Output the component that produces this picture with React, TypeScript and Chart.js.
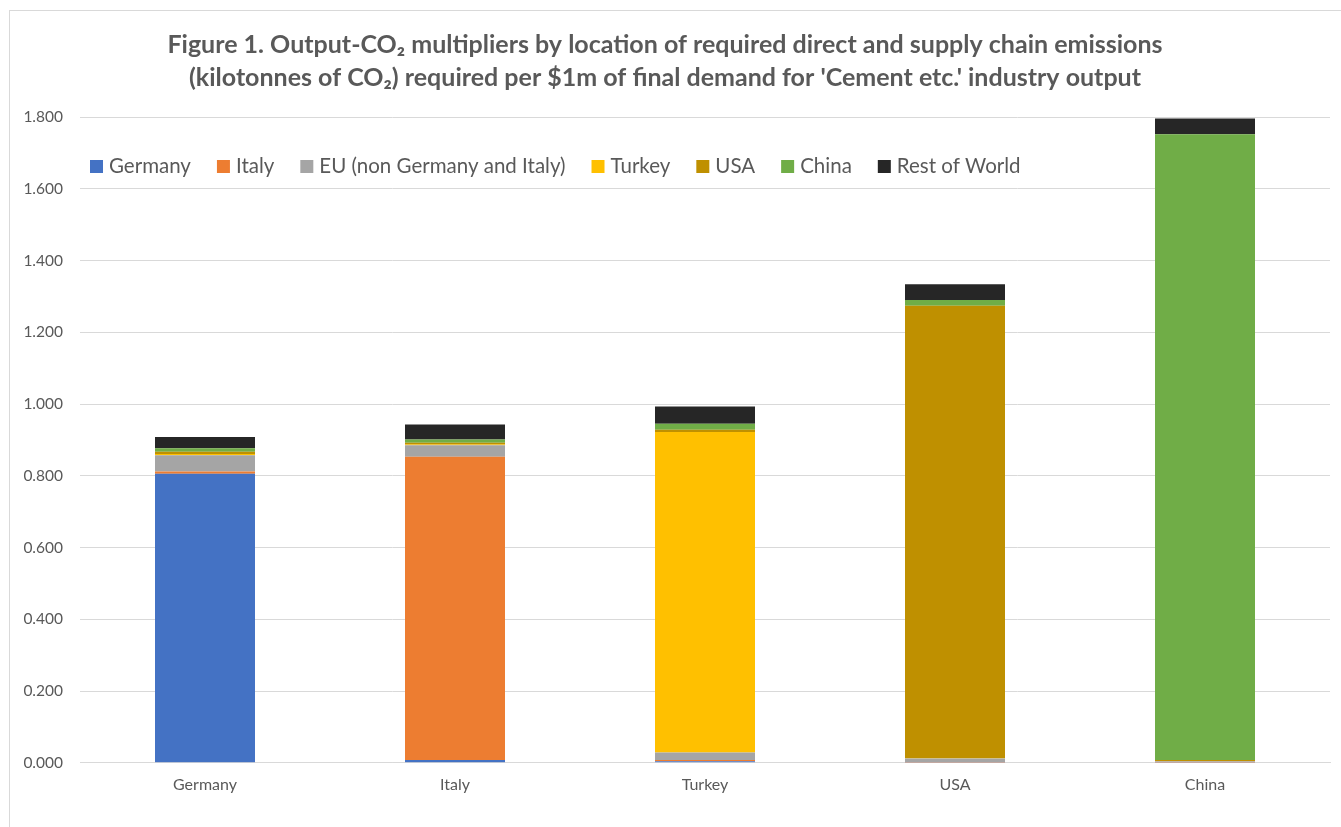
import React, { useEffect, useRef } from "react";
import { Chart, registerables } from "chart.js";

Chart.register(...registerables);

const categories = ["Germany", "Italy", "Turkey", "USA", "China"];
const seriesNames = ["Germany", "Italy", "EU (non Germany and Italy)", "Turkey", "USA", "China", "Rest of World"];
const germany = [0.806, 0.008, 0.004, 0.001, 0.001];
const italy = [0.006, 0.845, 0.004, 0.001, 0.001];
const eu = [0.045, 0.032, 0.021, 0.010, 0.002];
const turkey = [0.004, 0.002, 0.893, 0.001, 0.001];
const usa = [0.006, 0.005, 0.006, 1.261, 0.003];
const china = [0.010, 0.009, 0.017, 0.016, 1.744];
const restOfWorld = [0.031, 0.042, 0.048, 0.044, 0.044];
const seriesValues = [germany, italy, eu, turkey, usa, china, restOfWorld];
const seriesColors = ["#4472C4", "#ED7D31", "#A5A5A5", "#FFC000", "#BF9000", "#70AD47", "#262626"];
const titleLines = [
  "Figure 1. Output-CO₂ multipliers by location of required direct and supply chain emissions",
  "(kilotonnes of CO₂) required per $1m of final demand for 'Cement etc.' industry output",
];

const FONT = "Lato, Calibri, 'Open Sans', sans-serif";

const framePlugin = {
  id: "frame",
  beforeDraw(chart: any) {
    const ctx = chart.ctx;
    ctx.save();
    ctx.fillStyle = "#ffffff";
    ctx.fillRect(0, 0, chart.width, chart.height);
    ctx.strokeStyle = "#d9d9d9";
    ctx.lineWidth = 1;
    ctx.strokeRect(9.5, 10.5, chart.width + 20, chart.height + 20);
    ctx.restore();
  },
};

const overlayLegend = {
  id: "overlayLegend",
  afterDatasetsDraw(chart: any) {
    const ctx = chart.ctx;
    ctx.save();
    ctx.font = `20.5px ${FONT}`;
    ctx.textBaseline = "middle";
    ctx.textAlign = "left";
    let x = chart.chartArea.left + 10;
    const y = 166;
    chart.data.datasets.forEach((ds: any) => {
      ctx.fillStyle = ds.backgroundColor;
      ctx.fillRect(x, y - 6, 13, 13);
      ctx.fillStyle = "#595959";
      ctx.fillText(ds.label, x + 19, y);
      x += 19 + ctx.measureText(ds.label).width + 26;
    });
    ctx.restore();
  },
};

export default function App() {
  const ref = useRef<HTMLCanvasElement>(null);
  useEffect(() => {
    if (!ref.current) return;
    const chart = new Chart(ref.current, {
      type: "bar",
      data: {
        labels: categories,
        datasets: seriesNames.map((name, i) => ({
          label: name,
          data: seriesValues[i],
          backgroundColor: seriesColors[i],
          borderWidth: 0,
          barPercentage: 0.4,
          categoryPercentage: 1,
        })),
      },
      options: {
        responsive: false,
        animation: false,
        layout: { padding: { left: 0, right: 11, top: 0, bottom: 21 } },
        plugins: {
          legend: { display: false },
          tooltip: { enabled: false },
          title: {
            display: true,
            text: titleLines,
            color: "#595959",
            font: { family: FONT, size: 25, weight: "bold", lineHeight: 1.3 },
            padding: { top: 29, bottom: 23 },
          },
        },
        scales: {
          x: {
            stacked: true,
            grid: { display: false, drawTicks: false },
            border: { color: "#d9d9d9", width: 1 },
            ticks: { color: "#595959", font: { family: FONT, size: 16 }, padding: 12 },
          },
          y: {
            stacked: true,
            min: 0,
            max: 1.8,
            afterFit: (scale: any) => {
              scale.width = 80;
            },
            grid: { color: "#d9d9d9", drawTicks: false },
            border: { display: false },
            ticks: {
              stepSize: 0.2,
              color: "#595959",
              font: { family: FONT, size: 15.5 },
              padding: 17,
              callback: (v: any) => Number(v).toFixed(3),
            },
          },
        },
      },
      plugins: [framePlugin, overlayLegend],
    });
    return () => chart.destroy();
  }, []);
  return (
    <div style={{ position: "absolute", left: 0, top: 0, width: 1341, height: 827, overflow: "hidden" }}>
      <canvas ref={ref} width={1341} height={827} style={{ width: 1341, height: 827, display: "block" }} />
    </div>
  );
}
